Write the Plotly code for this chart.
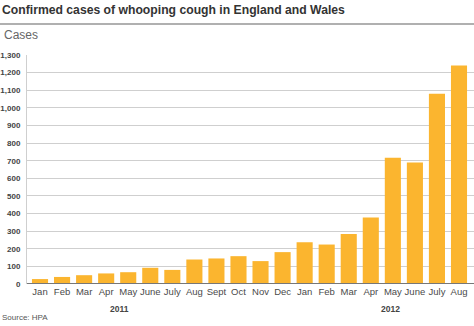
import plotly.graph_objects as go

months = ["Jan", "Feb", "Mar", "Apr", "May", "June", "July", "Aug", "Sept", "Oct", "Nov", "Dec",
          "Jan", "Feb", "Mar", "Apr", "May", "June", "July", "Aug"]
cases = [28, 40, 50, 60, 67, 92, 80, 139, 145, 158, 130, 181,
         237, 224, 284, 377, 716, 690, 1080, 1240]
year_labels = ["2011", "2012"]
year_positions = [3.6, 15.9]
y_ticks = list(range(0, 1301, 100))
y_ticktext = [f"{v:,}" for v in y_ticks]

x_idx = list(range(len(months)))

fig = go.Figure()
fig.add_trace(go.Bar(x=x_idx, y=cases, marker=dict(color="#FBB52F", line=dict(width=0)),
                     width=0.73, hoverinfo="y"))

FONT = "Liberation Sans, Arial, sans-serif"

fig.update_layout(
    width=474, height=326,
    margin=dict(l=27, r=0, t=55, b=42),
    paper_bgcolor="white", plot_bgcolor="white",
    showlegend=False,
    bargap=0.27,
    font=dict(family=FONT),
    xaxis=dict(
        range=[-0.59, 19.68],
        tickmode="array", tickvals=x_idx, ticktext=months,
        tickfont=dict(size=9.5, color="#4a4a4a", family=FONT),
        showgrid=False, zeroline=False, showline=False, ticks="",
        fixedrange=True,
    ),
    yaxis=dict(
        range=[0, 1300],
        tickmode="array", tickvals=y_ticks, ticktext=y_ticktext,
        tickfont=dict(size=8, color="#444444", family=FONT, weight="bold"),
        showgrid=True, gridcolor="#cfcfcf", gridwidth=1,
        zeroline=False, showline=True, linecolor="#cfcfcf", linewidth=1,
        ticks="", ticklabelstandoff=4,
        fixedrange=True,
    ),
)

# baseline
fig.add_shape(type="line", xref="paper", yref="y", x0=0, x1=1, y0=0, y1=0,
              line=dict(color="#777777", width=2))
# header rule
fig.add_shape(type="line", xref="paper", yref="paper", x0=-27/447, x1=1, y0=1.135, y1=1.135,
              line=dict(color="#b0b0b0", width=2))

fig.add_annotation(text="<b>Confirmed cases of whooping cough in England and Wales</b>",
                   xref="paper", yref="paper", x=-27/447, y=1.197, xanchor="left", yanchor="middle",
                   showarrow=False, font=dict(size=12.2, color="#333333", family=FONT))
fig.add_annotation(text="Cases", xref="paper", yref="paper", x=-25/447, y=1.087,
                   xanchor="left", yanchor="middle", showarrow=False,
                   font=dict(size=12, color="#666666", family=FONT))
for lbl, pos in zip(year_labels, year_positions):
    fig.add_annotation(text=f"<b>{lbl}</b>", xref="x", yref="paper", x=pos, y=-0.108,
                       xanchor="center", yanchor="middle", showarrow=False,
                       font=dict(size=8.5, color="#444444", family=FONT))
fig.add_annotation(text="Source: HPA", xref="paper", yref="paper", x=-27/447, y=-0.147,
                   xanchor="left", yanchor="middle", showarrow=False,
                   font=dict(size=8, color="#555555", family=FONT))

fig.write_html("out.html", config={"displayModeBar": False})
